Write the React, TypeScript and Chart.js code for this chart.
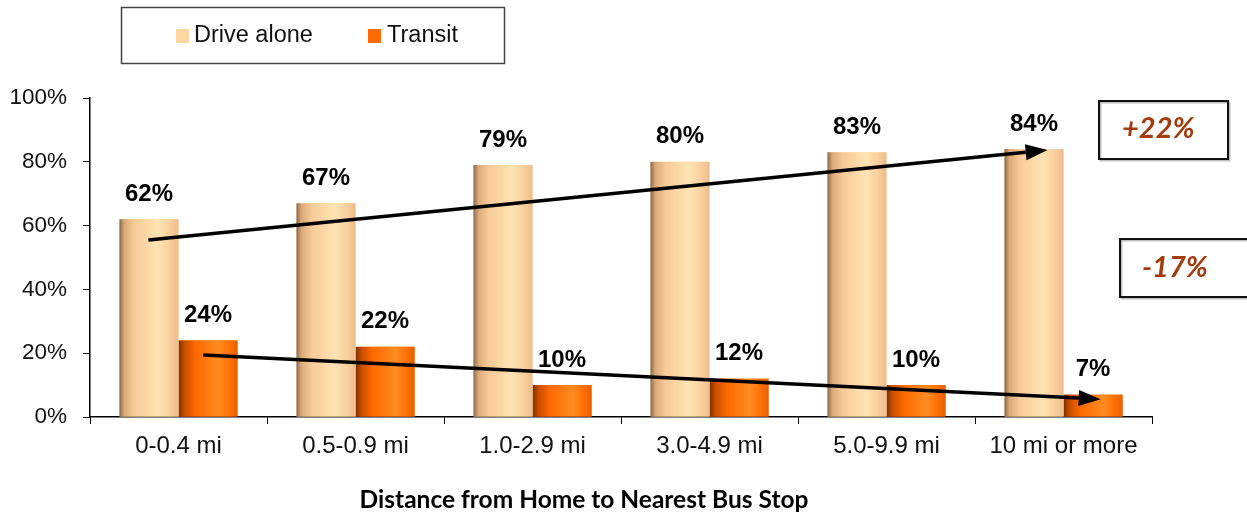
import React, { useEffect, useRef } from "react";
import { Chart, registerables } from "chart.js";

Chart.register(...registerables);

const categories = ["0-0.4 mi", "0.5-0.9 mi", "1.0-2.9 mi", "3.0-4.9 mi", "5.0-9.9 mi", "10 mi or more"];
const driveAlone = [62, 67, 79, 80, 83, 84];
const transit = [24, 22, 10, 12, 10, 7];
const seriesNames = ["Drive alone", "Transit"];
const yTicks = [0, 20, 40, 60, 80, 100];
const xTitle = "Distance from Home to Nearest Bus Stop";
// trend arrows in data units: [category position, percent]
const arrowDrive = { from: [-0.17, 55.5], to: [4.91, 83.7] };
const arrowTransit = { from: [0.14, 19.4], to: [5.21, 5.6] };
const changeLabels = ["+22%", "-17%"];

const swatch = ["#FFD8A0", "#FF6B00"];
const gradStops = [
  [
    [0, "#8a6848"],
    [0.08, "#d9a878"],
    [0.25, "#F7C997"],
    [0.65, "#FFE3B3"],
    [0.85, "#F9CF9E"],
    [1, "#EDBD8C"],
  ],
  [
    [0, "#7a2e00"],
    [0.1, "#c84e00"],
    [0.3, "#FF6A00"],
    [0.68, "#FF8C22"],
    [0.85, "#FF7206"],
    [1, "#E86000"],
  ],
];

const customPlugin = {
  id: "custom",
  afterDatasetDraw(chart: any, args: any) {
    const ctx = chart.ctx;
    const di = args.index;
    const stops = gradStops[di];
    args.meta.data.forEach((el: any) => {
      const p = el.getProps(["x", "y", "base", "width"], true);
      const l = p.x - p.width / 2;
      const g = ctx.createLinearGradient(l, 0, l + p.width, 0);
      stops.forEach((s: any) => g.addColorStop(s[0], s[1]));
      ctx.save();
      ctx.fillStyle = g;
      ctx.fillRect(l, p.y, p.width, p.base - p.y);
      ctx.restore();
    });
  },
  afterDraw(chart: any) {
    const ctx = chart.ctx;
    const xs = chart.scales.x;
    const ys = chart.scales.y;
    ctx.save();
    // value labels
    ctx.fillStyle = "#000";
    ctx.font = "bold 24px 'Liberation Sans', Arial, sans-serif";
    ctx.textAlign = "center";
    ctx.textBaseline = "middle";
    chart.data.datasets.forEach((ds: any, di: number) => {
      const meta = chart.getDatasetMeta(di);
      meta.data.forEach((el: any, i: number) => {
        const p = el.getProps(["x", "y"], true);
        ctx.fillText(ds.data[i] + "%", p.x, p.y - 25);
      });
    });
    // arrows
    const drawArrow = (a: any) => {
      const x1 = xs.getPixelForValue(a.from[0]);
      const y1 = ys.getPixelForValue(a.from[1]);
      const x2 = xs.getPixelForValue(a.to[0]);
      const y2 = ys.getPixelForValue(a.to[1]);
      const ang = Math.atan2(y2 - y1, x2 - x1);
      const hl = 22;
      const hw = 8;
      const bx = x2 - hl * Math.cos(ang);
      const by = y2 - hl * Math.sin(ang);
      ctx.strokeStyle = "#000";
      ctx.lineWidth = 3.5;
      ctx.beginPath();
      ctx.moveTo(x1, y1);
      ctx.lineTo(bx, by);
      ctx.stroke();
      ctx.fillStyle = "#000";
      ctx.beginPath();
      ctx.moveTo(x2, y2);
      ctx.lineTo(bx + hw * Math.sin(ang), by - hw * Math.cos(ang));
      ctx.lineTo(bx - hw * Math.sin(ang), by + hw * Math.cos(ang));
      ctx.closePath();
      ctx.fill();
    };
    drawArrow(arrowDrive);
    drawArrow(arrowTransit);
    // change boxes
    const boxes = [
      { x: 1099, y: 101, w: 129, h: 58, tx: 1122, ty: 129 },
      { x: 1120, y: 239, w: 140, h: 58, tx: 1142, ty: 268 },
    ];
    boxes.forEach((b, i) => {
      ctx.fillStyle = "#fff";
      ctx.fillRect(b.x, b.y, b.w, b.h);
      ctx.strokeStyle = "rgba(0,0,0,0.25)";
      ctx.lineWidth = 2;
      ctx.strokeRect(b.x + 1.5, b.y + 1.5, b.w, b.h);
      ctx.strokeStyle = "#111";
      ctx.lineWidth = 2;
      ctx.strokeRect(b.x, b.y, b.w, b.h);
      ctx.fillStyle = "#A33B0C";
      ctx.font = "italic bold 29px Lato, 'Open Sans', sans-serif";
      ctx.textAlign = "left";
      ctx.textBaseline = "middle";
      ctx.fillText(changeLabels[i], b.tx, b.ty);
    });
    // legend
    ctx.strokeStyle = "#444";
    ctx.lineWidth = 1.5;
    ctx.strokeRect(121.5, 7.5, 383, 56);
    const items = [
      { sx: 176, tx: 194 },
      { sx: 368, tx: 387 },
    ];
    ctx.font = "23.5px 'Liberation Sans', Arial, sans-serif";
    ctx.textAlign = "left";
    ctx.textBaseline = "middle";
    items.forEach((it, i) => {
      ctx.fillStyle = swatch[i];
      ctx.fillRect(it.sx, 29, 13, 14);
      ctx.fillStyle = "#111";
      ctx.fillText(seriesNames[i], it.tx, 36);
    });
    // x title
    ctx.fillStyle = "#000";
    ctx.font = "bold 24.5px Lato, 'Open Sans', sans-serif";
    ctx.textAlign = "center";
    ctx.fillText(xTitle, 584, 500);
    ctx.restore();
  },
};

export default function App() {
  const ref = useRef<HTMLCanvasElement>(null);
  useEffect(() => {
    if (!ref.current) return;
    const chart = new Chart(ref.current, {
      type: "bar",
      data: {
        labels: categories,
        datasets: [
          { label: seriesNames[0], data: driveAlone, backgroundColor: swatch[0], borderWidth: 0 },
          { label: seriesNames[1], data: transit, backgroundColor: swatch[1], borderWidth: 0 },
        ],
      },
      options: {
        responsive: false,
        animation: false,
        datasets: { bar: { categoryPercentage: 0.667, barPercentage: 1 } },
        layout: { padding: { left: 0, top: 98, right: 95, bottom: 0 } },
        plugins: { legend: { display: false }, tooltip: { enabled: false } },
        scales: {
          x: {
            afterFit: (s: any) => {
              s.height = 100;
            },
            grid: { display: true, drawOnChartArea: false, tickLength: 7, color: "#000", offset: true },
            border: { display: true, color: "#000", width: 1.5 },
            ticks: {
              color: "#111",
              padding: 8,
              maxRotation: 0,
              font: { family: "'Liberation Sans', Arial, sans-serif", size: 24 },
            },
          },
          y: {
            min: 0,
            max: 100,
            afterFit: (s: any) => {
              s.width = 90;
            },
            afterBuildTicks: (s: any) => {
              s.ticks = yTicks.map((v) => ({ value: v }));
            },
            grid: { display: true, drawOnChartArea: false, tickLength: 7, color: "#000" },
            border: { display: true, color: "#000", width: 1.5 },
            ticks: {
              color: "#111",
              padding: 16,
              callback: (v: any) => v + "%",
              font: { family: "'Liberation Sans', Arial, sans-serif", size: 22.5 },
            },
          },
        },
      },
      plugins: [customPlugin],
    });
    return () => chart.destroy();
  }, []);
  return (
    <canvas
      ref={ref}
      width={1247}
      height={517}
      style={{ position: "fixed", left: 0, top: 0, width: 1247, height: 517, display: "block" }}
    />
  );
}
